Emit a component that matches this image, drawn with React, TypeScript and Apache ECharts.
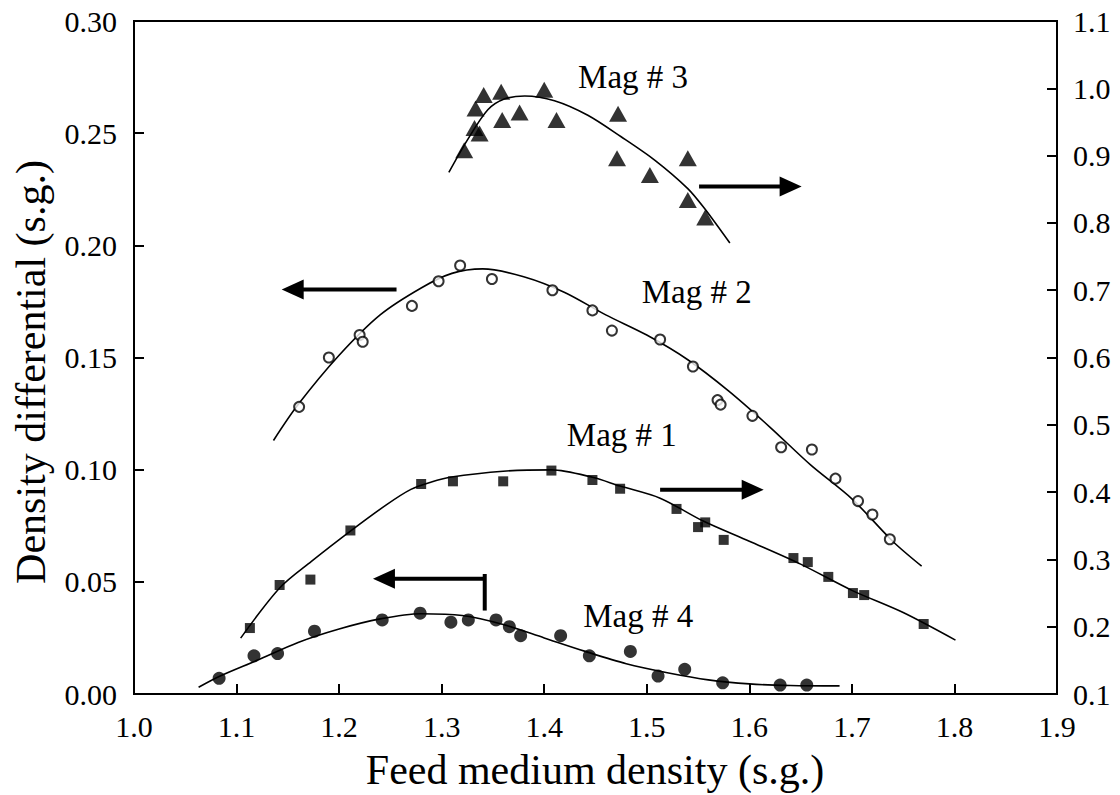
import React, { useEffect, useRef } from "react";
import * as echarts from "echarts";

const FONT = "'Liberation Serif', 'Times New Roman', Times, serif";

// Mag # 1 — filled squares, read on the right axis
const mag1X = [1.113, 1.142, 1.172, 1.211, 1.28, 1.311, 1.36, 1.407, 1.447, 1.474, 1.529, 1.55, 1.557, 1.575, 1.643, 1.657, 1.677, 1.701, 1.712, 1.77];
const mag1Y = [0.198, 0.262, 0.27, 0.343, 0.412, 0.416, 0.416, 0.432, 0.418, 0.405, 0.375, 0.348, 0.355, 0.329, 0.302, 0.296, 0.274, 0.25, 0.247, 0.204];
const mag1FitX = [1.104, 1.142, 1.173, 1.211, 1.246, 1.27, 1.29, 1.308, 1.36, 1.407, 1.447, 1.474, 1.513, 1.555, 1.6, 1.65, 1.7, 1.75, 1.801];
const mag1FitY = [0.183, 0.2575, 0.297, 0.342, 0.381, 0.404, 0.415, 0.422, 0.431, 0.433, 0.422, 0.409, 0.391, 0.357, 0.327, 0.293, 0.254, 0.221, 0.18];

// Mag # 2 — open circles, read on the left axis
const mag2X = [1.161, 1.19, 1.22, 1.223, 1.271, 1.297, 1.318, 1.349, 1.408, 1.447, 1.466, 1.513, 1.545, 1.569, 1.572, 1.603, 1.631, 1.661, 1.684, 1.706, 1.72, 1.737];
const mag2Y = [0.128, 0.15, 0.16, 0.157, 0.173, 0.184, 0.191, 0.185, 0.18, 0.171, 0.162, 0.158, 0.146, 0.131, 0.129, 0.124, 0.11, 0.109, 0.096, 0.086, 0.08, 0.069];
const mag2FitX = [1.136, 1.16, 1.2, 1.24, 1.28, 1.31, 1.34, 1.38, 1.42, 1.46, 1.5, 1.54, 1.58, 1.62, 1.66, 1.7, 1.74, 1.768];
const mag2FitY = [0.113, 0.129, 0.151, 0.169, 0.181, 0.1875, 0.1895, 0.186, 0.179, 0.169, 0.16, 0.149, 0.135, 0.119, 0.102, 0.087, 0.068, 0.057];

// Mag # 3 — filled triangles, read on the right axis
const mag3X = [1.322, 1.332, 1.337, 1.333, 1.341, 1.358, 1.359, 1.376, 1.4, 1.412, 1.472, 1.471, 1.503, 1.54, 1.54, 1.557];
const mag3Y = [0.908, 0.941, 0.933, 0.97, 0.99, 0.995, 0.953, 0.964, 0.998, 0.953, 0.962, 0.896, 0.871, 0.896, 0.834, 0.808];
const mag3FitX = [1.307, 1.325, 1.345, 1.361, 1.381, 1.41, 1.4425, 1.475, 1.508, 1.54, 1.556, 1.581];
const mag3FitY = [0.875, 0.923, 0.968, 0.984, 0.9886, 0.9816, 0.96, 0.928, 0.893, 0.851, 0.822, 0.77];

// Mag # 4 — filled circles, read on the left axis
const mag4X = [1.083, 1.117, 1.14, 1.176, 1.242, 1.279, 1.309, 1.326, 1.353, 1.366, 1.377, 1.416, 1.444, 1.484, 1.511, 1.537, 1.574, 1.63, 1.656];
const mag4Y = [0.007, 0.017, 0.018, 0.028, 0.033, 0.036, 0.032, 0.033, 0.033, 0.03, 0.026, 0.026, 0.017, 0.019, 0.008, 0.011, 0.005, 0.004, 0.004];
const mag4FitX = [1.063, 1.083, 1.12, 1.16, 1.2, 1.24, 1.28, 1.32, 1.36, 1.4, 1.44, 1.48, 1.52, 1.56, 1.6, 1.64, 1.688];
const mag4FitY = [0.003, 0.0078, 0.015, 0.023, 0.029, 0.0335, 0.0358, 0.035, 0.031, 0.025, 0.019, 0.0135, 0.0095, 0.0063, 0.0045, 0.0038, 0.0036];

// Curve labels, placed in (x, left-axis) units
const curveLabels = ["Mag # 3", "Mag # 2", "Mag # 1", "Mag # 4"];
const labelX = [1.433, 1.495, 1.422, 1.438];
const labelY = [0.275, 0.1792, 0.1155, 0.0348];

// Arrows telling which axis each curve uses (axis 0 = left, 1 = right)
const arrowAxis = [1, 0, 1, 0];
const arrowFromX = [1.551, 1.256, 1.513, 1.342];
const arrowToX = [1.651, 1.144, 1.614, 1.233];
const arrowY = [0.854, 0.1803, 0.4036, 0.0514];
// the Mag # 4 arrow has a short vertical stem
const stemX = 1.342;
const stemY = [0.0526, 0.0372];

const zip = (xs: number[], ys: number[]) => xs.map((x, i) => [x, ys[i]]);

export default function App() {
  const ref = useRef<HTMLDivElement>(null);

  useEffect(() => {
    if (!ref.current) return;
    const chart = echarts.init(ref.current, undefined, { renderer: "svg" });

    const axisLine = { show: true, lineStyle: { color: "#000", width: 2 } };
    const axisTick = { show: true, inside: true, length: 10, lineStyle: { color: "#000", width: 2 } };
    const labelStyle = { color: "#000", fontFamily: FONT, fontSize: 30, fontWeight: "normal" };

    const fitLine = (name: string, data: number[][], yAxisIndex: number) => ({
      name,
      type: "line",
      yAxisIndex,
      data,
      smooth: 0.3,
      showSymbol: false,
      symbol: "none",
      lineStyle: { color: "#000", width: 1.6 },
      silent: true,
      z: 2,
    });

    chart.setOption({
      animation: false,
      backgroundColor: "#fff",
      grid: {
        left: 134,
        right: 63,
        top: 21,
        bottom: 101,
        show: true,
        borderColor: "#000",
        borderWidth: 2,
        containLabel: false,
        outerBoundsMode: "none",
      },
      xAxis: {
        type: "value",
        min: 1.0,
        max: 1.9,
        interval: 0.1,
        axisLine,
        axisTick,
        splitLine: { show: false },
        axisLabel: { ...labelStyle, margin: 17, formatter: (v: number) => v.toFixed(1) },
      },
      yAxis: [
        {
          type: "value",
          position: "left",
          min: 0,
          max: 0.3,
          interval: 0.05,
          axisLine,
          axisTick,
          splitLine: { show: false },
          axisLabel: { ...labelStyle, margin: 17, formatter: (v: number) => v.toFixed(2) },
        },
        {
          type: "value",
          position: "right",
          min: 0.1,
          max: 1.1,
          interval: 0.1,
          axisLine,
          axisTick,
          splitLine: { show: false },
          axisLabel: { ...labelStyle, margin: 16, formatter: (v: number) => v.toFixed(1) },
        },
      ],
      series: [
        fitLine("Mag # 1 fit", zip(mag1FitX, mag1FitY), 1),
        fitLine("Mag # 2 fit", zip(mag2FitX, mag2FitY), 0),
        fitLine("Mag # 3 fit", zip(mag3FitX, mag3FitY), 1),
        fitLine("Mag # 4 fit", zip(mag4FitX, mag4FitY), 0),
        {
          name: "Mag # 1",
          type: "scatter",
          yAxisIndex: 1,
          data: zip(mag1X, mag1Y),
          symbol: "rect",
          symbolSize: 10,
          itemStyle: { color: "#000" },
          z: 3,
        },
        {
          name: "Mag # 2",
          type: "scatter",
          yAxisIndex: 0,
          data: zip(mag2X, mag2Y),
          symbol: "circle",
          symbolSize: 10,
          itemStyle: { color: "#fff", borderColor: "#000", borderWidth: 2 },
          z: 3,
        },
        {
          name: "Mag # 3",
          type: "scatter",
          yAxisIndex: 1,
          data: zip(mag3X, mag3Y),
          symbol: "triangle",
          symbolSize: [18, 16],
          itemStyle: { color: "#000" },
          z: 3,
        },
        {
          name: "Mag # 4",
          type: "scatter",
          yAxisIndex: 0,
          data: zip(mag4X, mag4Y),
          symbol: "circle",
          symbolSize: 13,
          itemStyle: { color: "#000" },
          z: 3,
        },
      ],
    });

    const px = (axis: number, x: number, y: number) =>
      chart.convertToPixel({ xAxisIndex: 0, yAxisIndex: axis }, [x, y]) as number[];

    const graphics: any[] = [];

    // axis titles
    graphics.push({
      type: "text",
      x: 595,
      y: 770,
      style: {
        text: "Feed medium density (s.g.)",
        fill: "#000",
        fontFamily: FONT,
        fontSize: 42,
        align: "center",
        verticalAlign: "middle",
      },
    });
    graphics.push({
      type: "text",
      x: 31,
      y: 372,
      rotation: Math.PI / 2,
      style: {
        text: "Density differential (s.g.)",
        fill: "#000",
        fontFamily: FONT,
        fontSize: 42,
        align: "center",
        verticalAlign: "middle",
      },
    });

    // curve labels
    curveLabels.forEach((t, i) => {
      const [x, y] = px(0, labelX[i], labelY[i]);
      graphics.push({
        type: "text",
        x,
        y,
        style: {
          text: t,
          fill: "#000",
          fontFamily: FONT,
          fontSize: 33,
          align: "left",
          verticalAlign: "middle",
        },
      });
    });

    // arrows
    arrowAxis.forEach((axis, i) => {
      const [x0, y0] = px(axis, arrowFromX[i], arrowY[i]);
      const [x1] = px(axis, arrowToX[i], arrowY[i]);
      const dir = x1 > x0 ? 1 : -1;
      const head = 22;
      graphics.push({
        type: "line",
        shape: { x1: x0, y1: y0, x2: x1 - dir * (head - 2), y2: y0 },
        style: { stroke: "#000", lineWidth: 4 },
      });
      graphics.push({
        type: "polygon",
        shape: {
          points: [
            [x1, y0],
            [x1 - dir * head, y0 - 10],
            [x1 - dir * head, y0 + 10],
          ],
        },
        style: { fill: "#000" },
      });
    });
    const [sx, sy0] = px(0, stemX, stemY[0]);
    const [, sy1] = px(0, stemX, stemY[1]);
    graphics.push({
      type: "line",
      shape: { x1: sx, y1: sy0 - 2, x2: sx, y2: sy1 },
      style: { stroke: "#000", lineWidth: 4 },
    });

    chart.setOption({ graphic: graphics });

    return () => chart.dispose();
  }, []);

  return (
    <div
      ref={ref}
      style={{ position: "fixed", left: 0, top: 0, width: 1120, height: 795, background: "#fff" }}
    />
  );
}
